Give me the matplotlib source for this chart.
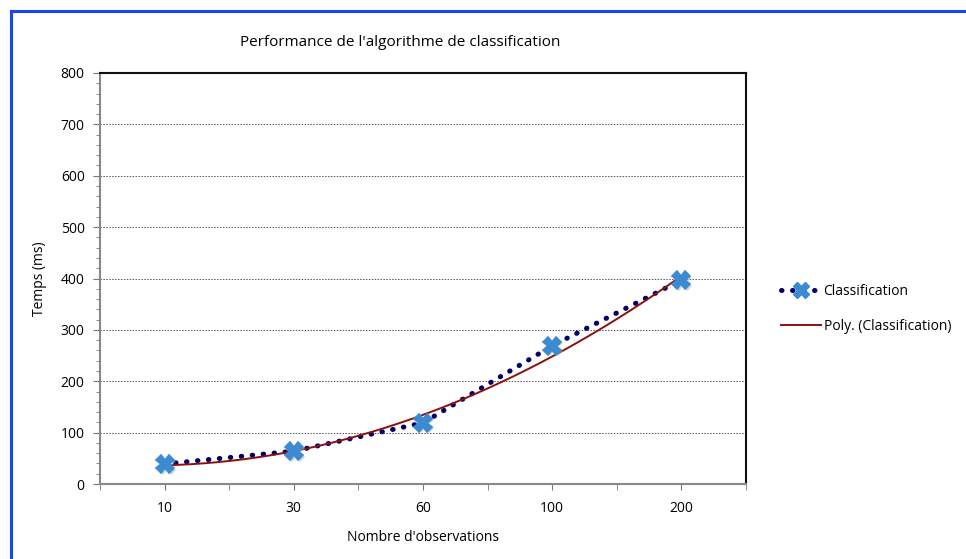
import matplotlib
matplotlib.use("Agg")
import matplotlib.pyplot as plt
import numpy as np
from matplotlib.lines import Line2D
from matplotlib.ticker import MultipleLocator, FixedLocator

plt.rcParams['font.family'] = ['Open Sans', 'DejaVu Sans']

categories = ["10", "30", "60", "100", "200"]
temps = [39, 64, 119, 269, 397]
title = "Performance de l'algorithme de classification"
xlabel = "Nombre d'observations"
ylabel = "Temps (ms)"
series_name = "Classification"
trend_name = "Poly. (Classification)"

fig = plt.figure(figsize=(9.66, 5.59), dpi=100)
ax = fig.add_axes([100/966, 1-484/559, 646/966, 411/559])

x = np.arange(1, len(categories) + 1)
ax.set_xlim(0.5, len(categories) + 0.5)
ax.set_ylim(0, 800)

# gridlines
ax.yaxis.set_major_locator(MultipleLocator(100))
ax.yaxis.set_minor_locator(MultipleLocator(20))
ax.grid(axis='y', which='major', color='#555555', linestyle=(0, (1.5, 1.5)), linewidth=0.7)
ax.set_axisbelow(True)

dot_style = (0, (0.1, 2.1))
# data series
ax.plot(x, temps, color='#000066', linestyle=dot_style, linewidth=3.6,
        dash_capstyle='round', zorder=3)
# polynomial trendline (order 2)
coef = np.polyfit(x, temps, 2)
xs = np.linspace(x[0], x[-1], 200)
ax.plot(xs, np.polyval(coef, xs), color='#8B1010', linewidth=1.4, zorder=4)
# markers with soft shadow
ax.plot(x + 0.015, np.array(temps) - 3, linestyle='none', marker='X', markersize=12.5,
        color='#9aa8b8', alpha=0.5, markeredgewidth=0, zorder=4)
ax.plot(x, temps, linestyle='none', marker='X', markersize=12.5,
        color='#3C8AD0', markeredgecolor='#3C8AD0', markeredgewidth=1.2, zorder=5)

# ticks
ax.set_xticks(x)
ax.set_xticklabels(categories)
ax.xaxis.set_minor_locator(FixedLocator(np.arange(0.5, len(categories) + 1, 1)))
ax.tick_params(axis='x', which='both', direction='out', length=4, color='#777777', pad=8, labelsize=10)
ax.tick_params(axis='y', which='major', direction='out', length=5, color='#777777', labelsize=10, pad=6)
ax.tick_params(axis='y', which='minor', direction='out', length=3, color='#777777')

for s in ['left', 'bottom']:
    ax.spines[s].set_color('#888888')
    ax.spines[s].set_linewidth(1.5)
for s in ['top', 'right']:
    ax.spines[s].set_color('#111111')
    ax.spines[s].set_linewidth(1.5)

ax.set_xlabel(xlabel, fontsize=10, labelpad=10)
ax.set_ylabel(ylabel, fontsize=10, labelpad=10)
fig.text(400/966, 1-42/559, title, ha='center', va='center', fontsize=11)

# legend
h1 = Line2D([], [], color='#000066', linestyle=dot_style, linewidth=3.6,
            dash_capstyle='round', marker='X', markersize=11.5,
            markerfacecolor='#3C8AD0', markeredgecolor='#3C8AD0', markeredgewidth=1.0)
h2 = Line2D([], [], color='#8B1010', linewidth=1.4)
fig.legend([h1, h2], [series_name, trend_name], loc='center left',
           bbox_to_anchor=(768/966, 1-309/559), frameon=False, fontsize=10,
           handlelength=2.9, handletextpad=0.2, labelspacing=1.45)

# blue frame (left and top)
fig.add_artist(Line2D([11/966, 11/966], [0, 1-11/559], color='#1A45F0', linewidth=2.2,
                      transform=fig.transFigure))
fig.add_artist(Line2D([11/966, 1], [1-11/559, 1-11/559], color='#1A45F0', linewidth=2.2,
                      transform=fig.transFigure))

fig.savefig("out.png", dpi=100)
